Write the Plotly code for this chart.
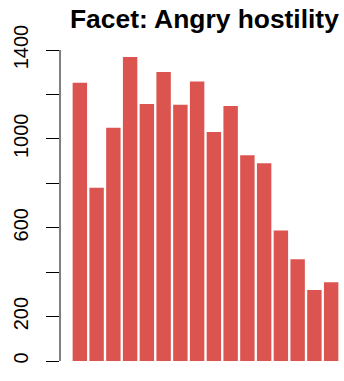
import plotly.graph_objects as go

categories = [str(i) for i in range(1, 17)]
counts = [1252, 780, 1050, 1369, 1157, 1301, 1154, 1258, 1031, 1148, 926, 890, 587, 458, 320, 354]
tick_values = [0, 200, 400, 600, 800, 1000, 1200, 1400]
tick_labels = ["0", "200", "", "600", "", "1000", "", "1400"]
title_text = "Facet: Angry hostility"
bar_color = "#DB5450"

fig = go.Figure()
fig.add_trace(go.Bar(
    x=list(range(len(categories))),
    y=counts,
    marker=dict(color=bar_color, line=dict(width=0)),
    hovertext=categories,
))

fig.update_layout(
    width=344, height=381,
    margin=dict(l=60, r=0, t=40, b=11, autoexpand=False),
    paper_bgcolor="white", plot_bgcolor="white",
    bargap=0.14,
    showlegend=False,
    font=dict(family="Liberation Sans, Arial, sans-serif", color="black"),
    xaxis=dict(range=[-1.185, 15.767], visible=False, fixedrange=True, automargin=False),
    yaxis=dict(
        range=[-40.5, 1445],
        tickvals=tick_values, ticktext=tick_labels,
        ticks="outside", ticklen=13, tickwidth=1, tickcolor="black",
        tickangle=-90, tickfont=dict(size=20, color="black"),
        ticklabelstandoff=10, automargin=False,
        showgrid=False, zeroline=False, showline=False,
    ),
    annotations=[dict(
        text="<b>" + title_text + "</b>", xref="paper", yref="paper",
        x=0.509, y=1.0628, xanchor="center", yanchor="middle",
        showarrow=False, font=dict(size=26.4, color="black"),
    )],
    shapes=[dict(
        type="line", xref="paper", yref="y",
        x0=0, x1=0, y0=tick_values[0], y1=tick_values[-1],
        line=dict(color="black", width=1),
    )],
)

fig.write_html(
    "out.html",
    config={"displayModeBar": False},
    post_script="document.body.style.margin='0';document.body.style.overflow='hidden';",
)
